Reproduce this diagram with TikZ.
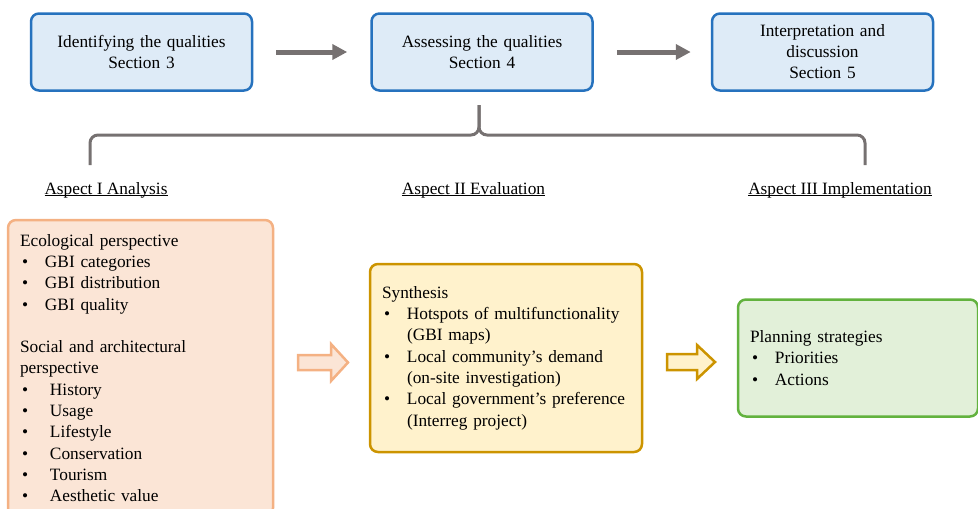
\documentclass[tikz,border=0pt]{standalone}
\usepackage{fontspec}
\setmainfont{Liberation Serif}
\usetikzlibrary{arrows.meta}
\pgfdeclarelayer{edgelayer}
\pgfdeclarelayer{nodelayer}
\pgfsetlayers{edgelayer,nodelayer,main}
\definecolor{blueline}{RGB}{38,114,190}
\definecolor{bluefill}{RGB}{222,235,247}
\definecolor{orangeline}{RGB}{244,177,131}
\definecolor{orangefill}{RGB}{251,229,214}
\definecolor{goldline}{RGB}{204,148,0}
\definecolor{goldfill}{RGB}{255,242,204}
\definecolor{greenline}{RGB}{98,178,62}
\definecolor{greenfill}{RGB}{226,240,217}
\definecolor{flowgray}{RGB}{118,113,113}
\newcommand{\itm}[2]{\makebox[#1pt][l]{\hspace{2pt}\textbullet}#2}
\newcommand{\uln}[1]{\underline{\smash{#1}}}
\tikzstyle{section}=[rectangle,rounded corners=8pt,line width=2.5pt,draw=blueline,fill=bluefill,minimum width=221pt,minimum height=77pt,text width=210pt,align=center,font=\fontsize{17.3}{21}\selectfont]
\tikzstyle{aspect}=[rectangle,rounded corners=8pt,line width=2.5pt,inner xsep=12pt,align=left,font=\fontsize{17.3}{21.3}\selectfont]
\tikzstyle{heading}=[font=\fontsize{17.3}{19}\selectfont]
\tikzstyle{flow}=[-{Triangle[length=15pt,width=15pt]},line width=5pt,draw=flowgray]
\tikzstyle{brace}=[line width=3pt,draw=flowgray,rounded corners=8pt]
\tikzstyle{hollow}=[line width=2.5pt,line join=miter]

\begin{document}
\begin{tikzpicture}[x=1pt,y=-1pt]
	\useasboundingbox (0,0) rectangle (978,509);
	\begin{pgfonlayer}{nodelayer}
		\node [style=section] (0) at (141.5, 52) {Identifying the qualities\\Section 3};
		\node [style=section] (1) at (482, 52) {Assessing the qualities\\Section 4};
		\node [style=section] (2) at (822.5, 52) {Interpretation and\\discussion\\Section 5};
		\node [style=heading] (3) at (106, 195) {\uln{Aspect I Analysis}};
		\node [style=heading] (4) at (473.5, 195) {\uln{Aspect II Evaluation}};
		\node [style=heading] (5) at (840, 195) {\uln{Aspect III Implementation}};
		\node [style=aspect, draw=orangeline, fill=orangefill, minimum width=265pt, minimum height=296pt, text width=241pt] (6) at (140.5, 368) {Ecological perspective\\
			\itm{25}{GBI categories}\\
			\itm{25}{GBI distribution}\\
			\itm{25}{GBI quality}\\[21.3pt]
			Social and architectural\\
			perspective\\
			\itm{30}{History}\\
			\itm{30}{Usage}\\
			\itm{30}{Lifestyle}\\
			\itm{30}{Conservation}\\
			\itm{30}{Tourism}\\
			\itm{30}{Aesthetic value}};
		\node [style=aspect, draw=goldline, fill=goldfill, minimum width=272pt, minimum height=188pt, text width=248pt] (7) at (506, 358) {Synthesis\\
			\itm{25}{Hotspots of multifunctionality}\\
			\hspace{25pt}(GBI maps)\\
			\itm{25}{Local community's demand}\\
			\hspace{25pt}(on-site investigation)\\
			\itm{25}{Local government's preference}\\
			\hspace{25pt}(Interreg project)};
		\node [style=aspect, draw=greenline, fill=greenfill, minimum width=240pt, minimum height=117pt, text width=216pt] (8) at (858, 358) {Planning strategies\\
			\itm{25}{Priorities}\\
			\itm{25}{Actions}};
	\end{pgfonlayer}
	\begin{pgfonlayer}{edgelayer}
		\draw [style=flow] ([xshift=23pt]0.east) to ([xshift=-23pt]1.west);
		\draw [style=flow] ([xshift=23pt]1.east) to ([xshift=-20pt]2.west);
		\draw [style=brace] (90,165) -- (90,135) -- (479,135) -- (479,105);
		\draw [style=brace] (479,105) -- (479,135) -- (865,135) -- (865,165);
		\draw [style=hollow, draw=orangeline, fill=orangefill] (298,355) -- (331,355) -- (331,344) -- (348,362.5) -- (331,381) -- (331,370) -- (298,370) -- cycle;
		\draw [style=hollow, draw=goldline, fill=goldfill] (667,354) -- (697,354) -- (697,345) -- (715,362) -- (697,379) -- (697,370) -- (667,370) -- cycle;
	\end{pgfonlayer}
\end{tikzpicture}
\end{document}
